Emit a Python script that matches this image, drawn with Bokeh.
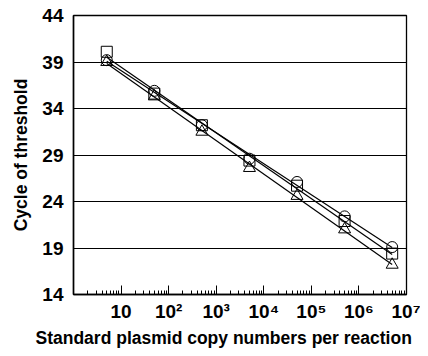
import numpy as np
from bokeh.plotting import figure
from bokeh.models import FixedTicker, Range1d, Title
from bokeh.embed import file_html
from bokeh.resources import INLINE

copies = [5, 50, 500, 5000, 50000, 500000, 5000000]
ct_square = [40.1, 35.6, 32.2, 28.4, 25.7, 21.9, 18.4]
ct_circle = [39.2, 35.9, 32.2, 28.6, 26.1, 22.4, 19.1]
ct_triangle = [39.0, 35.3, 31.5, 27.6, 24.6, 21.0, 17.2]
y_ticks = [14, 19, 24, 29, 34, 39, 44]
x_major = [10, 100, 1000, 10**4, 10**5, 10**6, 10**7]
x_labels = ["10", "10²", "10³", "10⁴", "10⁵", "10⁶", "10⁷"]
x_title = "Standard plasmid copy numbers per reaction"
y_title = "Cycle of threshold"

FONT = "Liberation Sans"

p = figure(width=420, height=348, x_axis_type="log", output_backend="svg",
           toolbar_location=None, x_range=Range1d(1, 10**7), y_range=Range1d(14, 44),
           min_border_left=73, min_border_right=14, min_border_top=15, min_border_bottom=53)

p.outline_line_color = "black"
p.outline_line_width = 1.3
p.xgrid.grid_line_color = None
p.ygrid.grid_line_color = "black"
p.ygrid.grid_line_width = 1.2
p.ygrid.grid_line_alpha = 1

minor = [m * 10**d for d in range(0, 7) for m in range(2, 10)]
p.xaxis.ticker = FixedTicker(ticks=x_major, minor_ticks=minor)
p.xaxis.major_label_overrides = {t: l for t, l in zip(x_major, x_labels)}
p.yaxis.ticker = FixedTicker(ticks=y_ticks)

for ax in (p.xaxis[0], p.yaxis[0]):
    ax.axis_line_color = "black"
    ax.axis_line_width = 1.5
    ax.major_label_text_font = FONT
    ax.major_label_text_font_style = "bold"
    ax.major_label_text_font_size = "19px"
    ax.major_label_text_color = "black"
    ax.axis_label_text_font = FONT
    ax.axis_label_text_font_style = "bold"
    ax.axis_label_text_color = "black"

p.xaxis.major_tick_in = 9
p.xaxis.major_tick_out = 0
p.xaxis.minor_tick_in = 4
p.xaxis.minor_tick_out = 0
p.xaxis.major_tick_line_color = "black"
p.xaxis.minor_tick_line_color = "black"
p.xaxis.major_label_standoff = 6

p.add_layout(Title(text=x_title, align="left", offset=-38, text_font=FONT,
                   text_font_style="bold", text_font_size="17.5px",
                   text_color="black", standoff=2), "below")

p.yaxis.major_tick_in = 0
p.yaxis.major_tick_out = 0
p.yaxis.minor_tick_line_color = None
p.yaxis.major_label_standoff = 10
p.yaxis.axis_label = y_title
p.yaxis.axis_label_text_font_size = "17.5px"
p.yaxis.axis_label_standoff = 8

lx = np.log10(copies)
xs = np.array([copies[0], copies[-1]], dtype=float)
for ys in (ct_square, ct_circle, ct_triangle):
    a, b = np.polyfit(lx, ys, 1)
    p.line(xs, a * np.log10(xs) + b, line_color="black", line_width=1.2)

p.scatter(copies, ct_circle, marker="circle", size=11, fill_color=None,
          line_color="black", line_width=1)
p.scatter(copies, ct_square, marker="square", size=11, fill_color=None,
          line_color="black", line_width=1)
p.scatter(copies, ct_triangle, marker="triangle", size=12, fill_color=None,
          line_color="black", line_width=1)

open("out.html", "w").write(file_html(p, INLINE))
